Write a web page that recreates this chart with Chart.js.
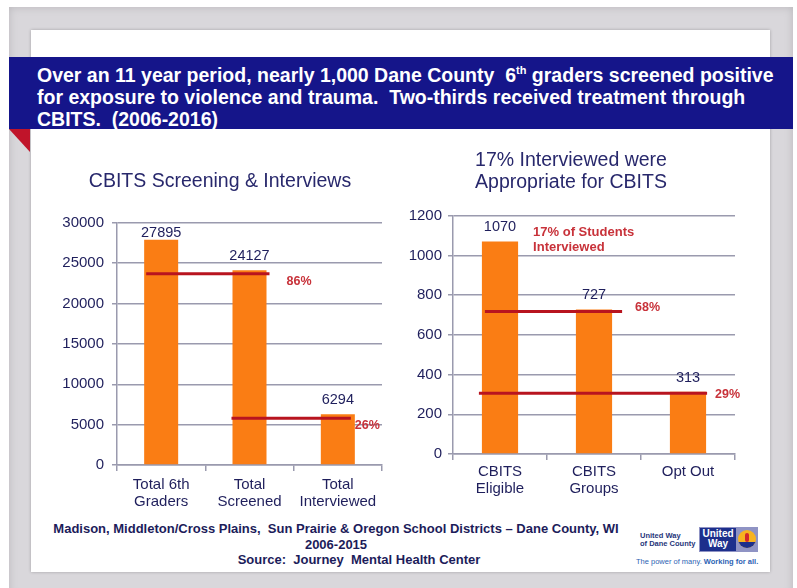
<!DOCTYPE html>
<html>
<head>
<meta charset="utf-8">
<script src="https://cdn.jsdelivr.net/npm/chart.js@4"></script>
<style>
  body { margin: 0; width: 797px; height: 588px; background: #fff; position: relative; overflow: hidden; font-family: "Liberation Sans", Arial, sans-serif; }
  #frame { position: absolute; left: 9px; top: 7px; width: 784px; height: 590px; background: #d9d7db; box-shadow: inset 0 0 8px #b9b7bb; }
  #panel { position: absolute; left: 31px; top: 30px; width: 739px; height: 542px; background: #fff; box-shadow: 0 0 3px rgba(0,0,0,0.25); }
  #band { position: absolute; left: 9px; top: 57px; width: 784px; height: 72px; background: #15158a; color: #fff; font-weight: bold; font-size: 19.5px; line-height: 22px; box-sizing: border-box; padding: 7px 0 0 28px; white-space: nowrap; }
  #band sup { font-size: 11px; vertical-align: 8px; line-height: 0; }
  #tri { position: absolute; left: 9px; top: 129px; width: 21px; height: 23px; background: #c0142a; clip-path: polygon(0 0, 100% 0, 100% 100%); }
  #c1 { position: absolute; left: 20px; top: 160px; }
  #c2 { position: absolute; left: 395px; top: 140px; }
  #foot { position: absolute; left: 36px; top: 521px; width: 600px; text-align: center; font-family: "Liberation Sans", Arial, sans-serif; font-weight: bold; font-size: 13px; line-height: 15.5px; color: #1c1c5a; white-space: nowrap; }
  #logo { position: absolute; left: 636px; top: 526px; width: 124px; height: 42px; font-family: "Liberation Sans Narrow", "Liberation Sans", Arial, sans-serif; }
  #logo .name { position: absolute; left: 4px; top: 6px; font-size: 7.5px; line-height: 8px; font-weight: bold; color: #26357a; }
  #logo .box { position: absolute; left: 63px; top: 1px; width: 59px; height: 25px; background: #8f93c4; }
  #logo .uw { position: absolute; left: 1px; top: 1px; width: 36px; height: 23px; background: #1d2f8c; color: #fff; font-weight: bold; font-size: 10px; line-height: 10px; text-align: center; padding-top: 1px; box-sizing: border-box; }
  #logo .sun { position: absolute; left: 39px; top: 3px; width: 18px; height: 18px; border-radius: 50%; background: #f7b320; overflow: hidden; }
  #logo .sun i { position: absolute; left: 7px; top: 3px; width: 4px; height: 9px; background: #d3262c; border-radius: 2px; }
  #logo .sun b { position: absolute; left: 0; top: 12px; width: 18px; height: 6px; background: #1d2f8c; }
  #logo .tag { position: absolute; left: 0; top: 31px; font-size: 7.5px; color: #2c63b4; white-space: nowrap; }
</style>
</head>
<body>
<div id="frame"></div>
<div id="panel"></div>
<div id="band">Over an 11 year period, nearly 1,000 Dane County &nbsp;6<sup>th</sup> graders screened positive<br>for exposure to violence and trauma. &nbsp;Two-thirds received treatment through<br>CBITS. &nbsp;(2006-2016)</div>
<div id="tri"></div>
<canvas id="c1" width="380" height="360"></canvas>
<canvas id="c2" width="380" height="370"></canvas>
<div id="foot">Madison, Middleton/Cross Plains, &nbsp;Sun Prairie &amp; Oregon School Districts – Dane County, WI<br>2006-2015<br><span style="margin-left:46px">Source: &nbsp;Journey &nbsp;Mental Health Center</span></div>
<div id="logo">
  <div class="name">United Way<br>of Dane County</div>
  <div class="box"><div class="uw">United<br>Way</div><div class="sun"><i></i><b></b></div></div>
  <div class="tag">The power of many. <b>Working for all.</b></div>
</div>
<script>
// left chart
const leftTitle = 'CBITS Screening & Interviews';
const leftLabels = [['Total 6th', 'Graders'], ['Total', 'Screened'], ['Total', 'Interviewed']];
const leftValues = [27895, 24127, 6294];
const leftMax = 30000;
const leftStep = 5000;
const leftLineFrom = [0, 1];
const leftLineTo = [1, 2];
const leftLineValues = [23700, 5800];
const leftLineLabels = ['86%', '26%'];

// right chart
const rightTitle = ['17% Interviewed were', 'Appropriate for CBITS'];
const rightLabels = [['CBITS', 'Eligible'], ['CBITS', 'Groups'], 'Opt Out'];
const rightValues = [1070, 727, 313];
const rightMax = 1200;
const rightStep = 200;
const rightLineFrom = [0, 0];
const rightLineTo = [1, 2];
const rightLineValues = [718, 306];
const rightLineLabels = ['68%', '29%'];
const rightNote = ['17% of Students', 'Interviewed'];

const FONT = '"Liberation Sans", Arial, sans-serif';
const NAVY = '#1f1f5c';
const GRID = '#9a9aae';
const ORANGE = '#fa7d14';
const RED = '#b8141f';

Chart.defaults.font.family = FONT;
Chart.defaults.animation = false;

// value labels over the bars
const barLabels = {
    id: 'barLabels',
    afterDatasetsDraw(chart) {
        let ctx = chart.ctx;
        let meta = chart.getDatasetMeta(0);
        ctx.save();
        ctx.font = '14.5px ' + FONT;
        ctx.fillStyle = NAVY;
        ctx.textAlign = 'center';
        ctx.textBaseline = 'bottom';
        meta.data.forEach((bar, i) => {
            let y = Math.max(bar.y - 7, chart.chartArea.top + 17);
            ctx.fillText(String(chart.data.datasets[0].data[i]), bar.x, y);
        });
        ctx.restore();
    }
};

// red percentage lines
const refLines = {
    id: 'refLines',
    afterDatasetsDraw(chart, args, opts) {
        let ctx = chart.ctx;
        let meta = chart.getDatasetMeta(0);
        ctx.save();
        opts.lines.forEach((l, i) => {
            let a = meta.data[l.from], b = meta.data[l.to];
            let y = chart.scales.y.getPixelForValue(l.value);
            let x1 = a.x - a.width / 2 + opts.startPad[i];
            let x2 = b.x + b.width / 2 + opts.endPad[i];
            ctx.strokeStyle = RED;
            ctx.lineWidth = 3;
            ctx.beginPath();
            ctx.moveTo(x1, y);
            ctx.lineTo(x2, y);
            ctx.stroke();
            ctx.font = 'bold 12.5px ' + FONT;
            ctx.fillStyle = '#c8323a';
            ctx.textAlign = 'left';
            ctx.textBaseline = 'middle';
            ctx.fillText(l.label, b.x + b.width / 2 + opts.labelDx[i], y + opts.labelDy[i]);
        });
        if (opts.note) {
            let a = meta.data[opts.note.after];
            ctx.font = 'bold 13px ' + FONT;
            ctx.fillStyle = '#c8323a';
            ctx.textAlign = 'left';
            ctx.textBaseline = 'middle';
            opts.note.text.forEach((t, k) => {
                ctx.fillText(t, a.x + a.width / 2 + 15, chart.chartArea.top + 17 + k * 15);
            });
        }
        ctx.restore();
    }
};

function makeLines(from, to, values, labels) {
    return values.map((v, i) => ({from: from[i], to: to[i], value: v, label: labels[i]}));
}

function makeChart(id, cfg) {
    return new Chart(document.getElementById(id), {
        type: 'bar',
        data: {
            labels: cfg.labels,
            datasets: [{
                data: cfg.values,
                backgroundColor: ORANGE,
                barPercentage: 0.385,
                categoryPercentage: 1
            }]
        },
        options: {
            responsive: false,
            layout: {padding: cfg.padding},
            plugins: {
                legend: {display: false},
                tooltip: {enabled: false},
                title: {
                    display: true,
                    text: cfg.title,
                    color: '#28286c',
                    font: {size: 19.5, weight: 'normal', lineHeight: 1.12},
                    padding: cfg.titlePad
                },
                refLines: {
                    lines: cfg.lines,
                    startPad: cfg.startPad,
                    endPad: cfg.endPad,
                    labelDx: cfg.labelDx,
                    labelDy: cfg.labelDy,
                    note: cfg.note
                }
            },
            scales: {
                x: {
                    grid: {offset: true, drawOnChartArea: false, tickLength: 6, color: GRID, lineWidth: 1.5},
                    border: {color: GRID, width: 1.5},
                    ticks: {color: NAVY, font: {size: 15, lineHeight: 1.15}, padding: cfg.xPad, maxRotation: 0, autoSkip: false},
                    afterFit: s => { s.height = cfg.xHeight; }
                },
                y: {
                    min: 0,
                    max: cfg.max,
                    grid: {color: GRID, lineWidth: 1.5, tickLength: 5},
                    border: {color: GRID, width: 1.5},
                    ticks: {stepSize: cfg.step, color: NAVY, font: {size: 15}, padding: cfg.yPad, callback: v => String(v)},
                    afterFit: s => { s.width = cfg.yWidth; }
                }
            }
        },
        plugins: [barLabels, refLines]
    });
}

makeChart('c1', {
    labels: leftLabels,
    values: leftValues,
    max: leftMax,
    step: leftStep,
    title: leftTitle,
    titlePad: {top: 11, bottom: 30},
    padding: {left: 38, right: 18, top: 0, bottom: 0},
    xHeight: 55, xPad: 5,
    yWidth: 59, yPad: 8,
    lines: makeLines(leftLineFrom, leftLineTo, leftLineValues, leftLineLabels),
    startPad: [2, -1],
    endPad: [3, -4],
    labelDx: [20, 0],
    labelDy: [8, 7]
});

makeChart('c2', {
    labels: rightLabels,
    values: rightValues,
    max: rightMax,
    step: rightStep,
    title: rightTitle,
    titlePad: {top: 10, bottom: 22},
    padding: {left: 12, right: 40, top: 0, bottom: 0},
    xHeight: 56, xPad: 3,
    yWidth: 46, yPad: 6,
    lines: makeLines(rightLineFrom, rightLineTo, rightLineValues, rightLineLabels),
    startPad: [3, -3],
    endPad: [10, 1],
    labelDx: [23, 9],
    labelDy: [-4, 1],
    note: {after: 0, text: rightNote}
});
</script>
</body>
</html>
